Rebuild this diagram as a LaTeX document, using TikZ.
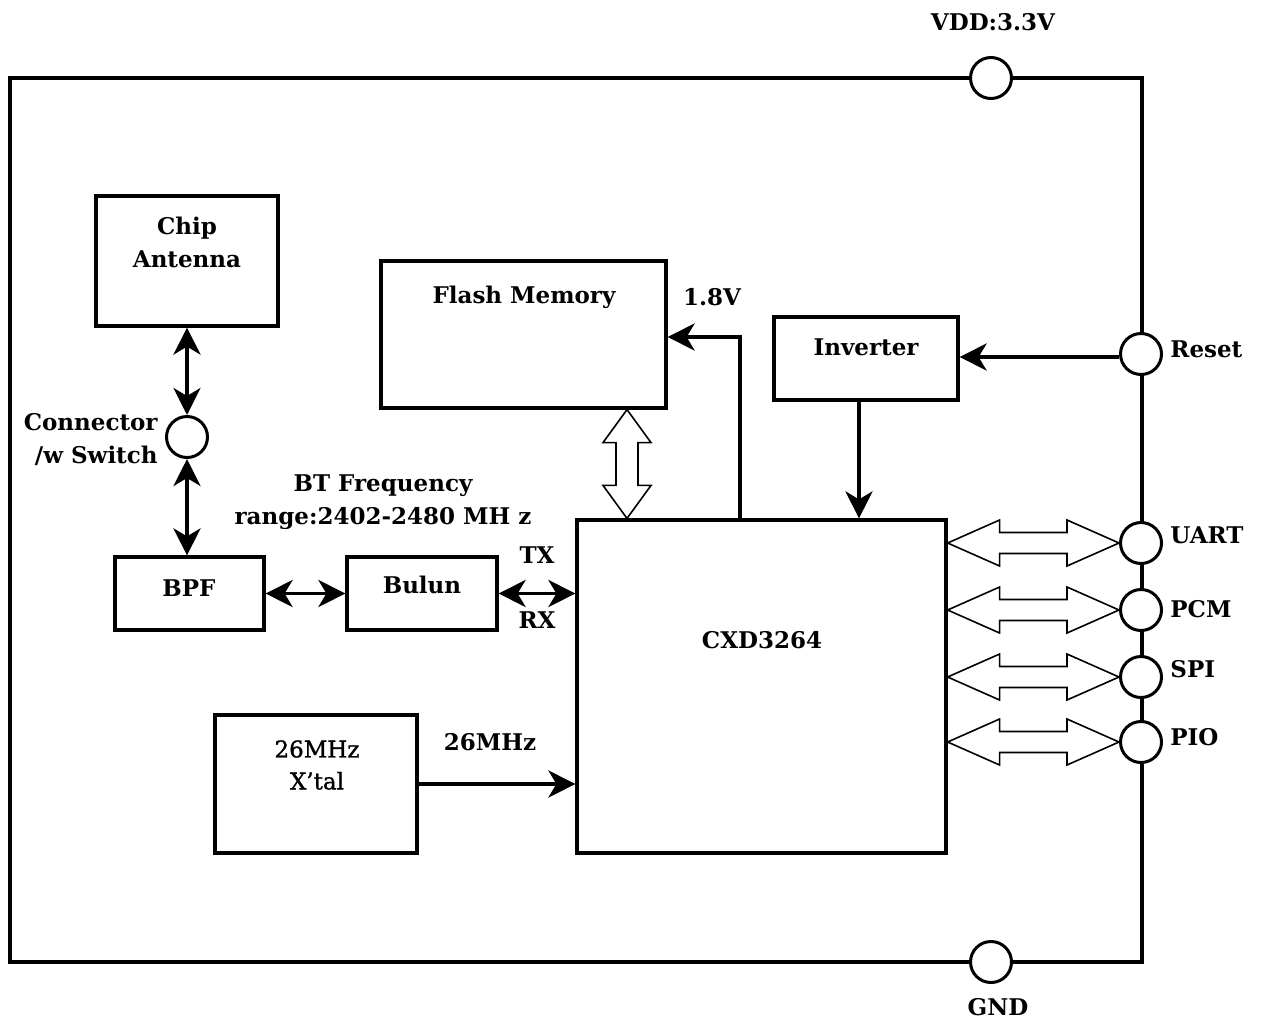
\documentclass[tikz,border=0pt]{standalone}
\usepackage{fontspec}
\setmainfont{DejaVu Serif}
\newfontfamily\xtalfont[FakeBold=1.2]{DejaVu Serif}
\usetikzlibrary{arrows.meta,calc,fit}
\tikzset{
  box/.style={draw,line width=1.6pt,inner sep=0pt},
  port/.style={draw,circle,fill=white,line width=1.5pt,minimum size=20.5pt,inner sep=0pt},
  lbl/.style={inner sep=0pt,font=\fontsize{11.5}{16.5}\selectfont\bfseries,align=center},
  lblr/.style={inner sep=0pt,font=\fontsize{11.5}{16}\selectfont\xtalfont,align=center},
  arr/.style={line width=1.9pt,-{Stealth[length=13.5pt,width=13.5pt,inset=4pt]}},
  dbl/.style={line width=1.9pt,{Stealth[length=13.5pt,width=13.5pt,inset=4pt]}-{Stealth[length=13.5pt,width=13.5pt,inset=4pt]}},
  hollow/.style={draw,line width=0.8pt,fill=white,line join=miter}
}
\newcommand\hollowH[2]{\draw[hollow] (#1) -- ++(52,-23) -- ++(0,12.5) -- ($(#2)+(-52,-10.5)$) -- ++(0,-12.5) -- (#2) -- ++(-52,23) -- ++(0,-12.5) -- ($(#1)+(52,10.5)$) -- ++(0,12.5) -- cycle;}
\newcommand\hollowV[2]{\draw[hollow] (#1) -- ++(24,33) -- ++(-13,0) -- ($(#2)+(11,-33)$) -- ++(13,0) -- (#2) -- ++(-24,-33) -- ++(13,0) -- ($(#1)+(-11,33)$) -- ++(-13,0) -- cycle;}
\begin{document}
\begin{tikzpicture}[x=0.5pt,y=-0.5pt]
\useasboundingbox (0,0) rectangle (1262,1023);
% frame
\draw[line width=2pt] (10,78) rectangle (1142,962);
% ports
\node[port] (vdd) at (991,78) {};
\node[port] (gnd) at (991,962) {};
\node[port] (reset) at (1141,354) {};
\node[port] (uart) at (1141,543) {};
\node[port] (pcm) at (1141,610) {};
\node[port] (spi) at (1141,677) {};
\node[port] (pio) at (1141,742) {};
\node[port] (conn) at (187,437) {};
% boxes
\node[box,fit={(96,196)(278,326)}] (ant) {};
\node[box,fit={(381,261)(666,408)}] (flash) {};
\node[box,fit={(774,317)(958,400)}] (inv) {};
\node[box,fit={(115,557)(264,630)}] (bpf) {};
\node[box,fit={(347,557)(497,630)}] (bulun) {};
\node[box,fit={(577,520)(946,853)}] (cxd) {};
\node[box,fit={(215,715)(417,853)}] (xtal) {};
% texts
\node[lbl] (vddt) at (993,22) {VDD:3.3V};
\node[lbl] (gndt) at (998,1007) {GND};
\node[lbl] (antt) at (187,242) {Chip\\Antenna};
\node[lbl,anchor=east,align=right] (connt) at (158,440) {Connector\\/w Switch};
\node[lbl] (btt) at (383,502) {BT Frequency\\range:2402-2480 MH z};
\node[lbl,anchor=base] (txt) at (537,563) {TX};
\node[lbl,anchor=base] (rxt) at (537,628) {RX};
\node[lbl,anchor=base] (bpft) at (189,596) {BPF};
\node[lbl,anchor=base] (bulunt) at (422,593) {Bulun};
\node[lbl,anchor=base] (flasht) at (524,303) {Flash Memory};
\node[lbl,anchor=base] (v18t) at (712,305) {1.8V};
\node[lbl,anchor=base] (invt) at (866,355) {Inverter};
\node[lbl,anchor=base] (cxdt) at (762,648) {CXD3264};
\node[lblr] (xtalt) at (317,765) {26MHz\\X’tal};
\node[lbl,anchor=base] (mhzt) at (490,750) {26MHz};
\node[lbl,anchor=base west] (resett) at (1170,357) {Reset};
\node[lbl,anchor=base west] (uartt) at (1170,543) {UART};
\node[lbl,anchor=base west] (pcmt) at (1170,617) {PCM};
\node[lbl,anchor=base west] (spit) at (1170,677) {SPI};
\node[lbl,anchor=base west] (piot) at (1170,745) {PIO};
% connectors
\draw[dbl] (ant.south) -- (conn.north);
\draw[dbl] (conn.south) -- (conn.south |- bpf.north);
\draw[dbl] (bpf.east) -- (bulun.west);
\draw[dbl] (bulun.east) -- (bulun.east -| cxd.west);
\coordinate (p18) at (740,337);
\draw[arr] (p18 |- cxd.north) |- (flash.east |- p18);
\coordinate (pr) at (0,357);
\draw[arr] (reset.west |- pr) -- (inv.east |- pr);
\coordinate (pi) at (859,0);
\draw[arr] (pi |- inv.south) -- (pi |- cxd.north);
\draw[arr] (xtal.east) -- (xtal.east -| cxd.west);
% hollow arrows
\coordinate (pf) at (627,0);
\coordinate (f1) at (pf |- flash.south);
\coordinate (f2) at (pf |- cxd.north);
\hollowV{f1}{f2}
\coordinate (u1) at (cxd.east |- uart); \coordinate (u2) at (uart.west);
\hollowH{u1}{u2}
\coordinate (c1) at (cxd.east |- pcm); \coordinate (c2) at (pcm.west);
\hollowH{c1}{c2}
\coordinate (s1) at (cxd.east |- spi); \coordinate (s2) at (spi.west);
\hollowH{s1}{s2}
\coordinate (o1) at (cxd.east |- pio); \coordinate (o2) at (pio.west);
\hollowH{o1}{o2}
\end{tikzpicture}
\end{document}
